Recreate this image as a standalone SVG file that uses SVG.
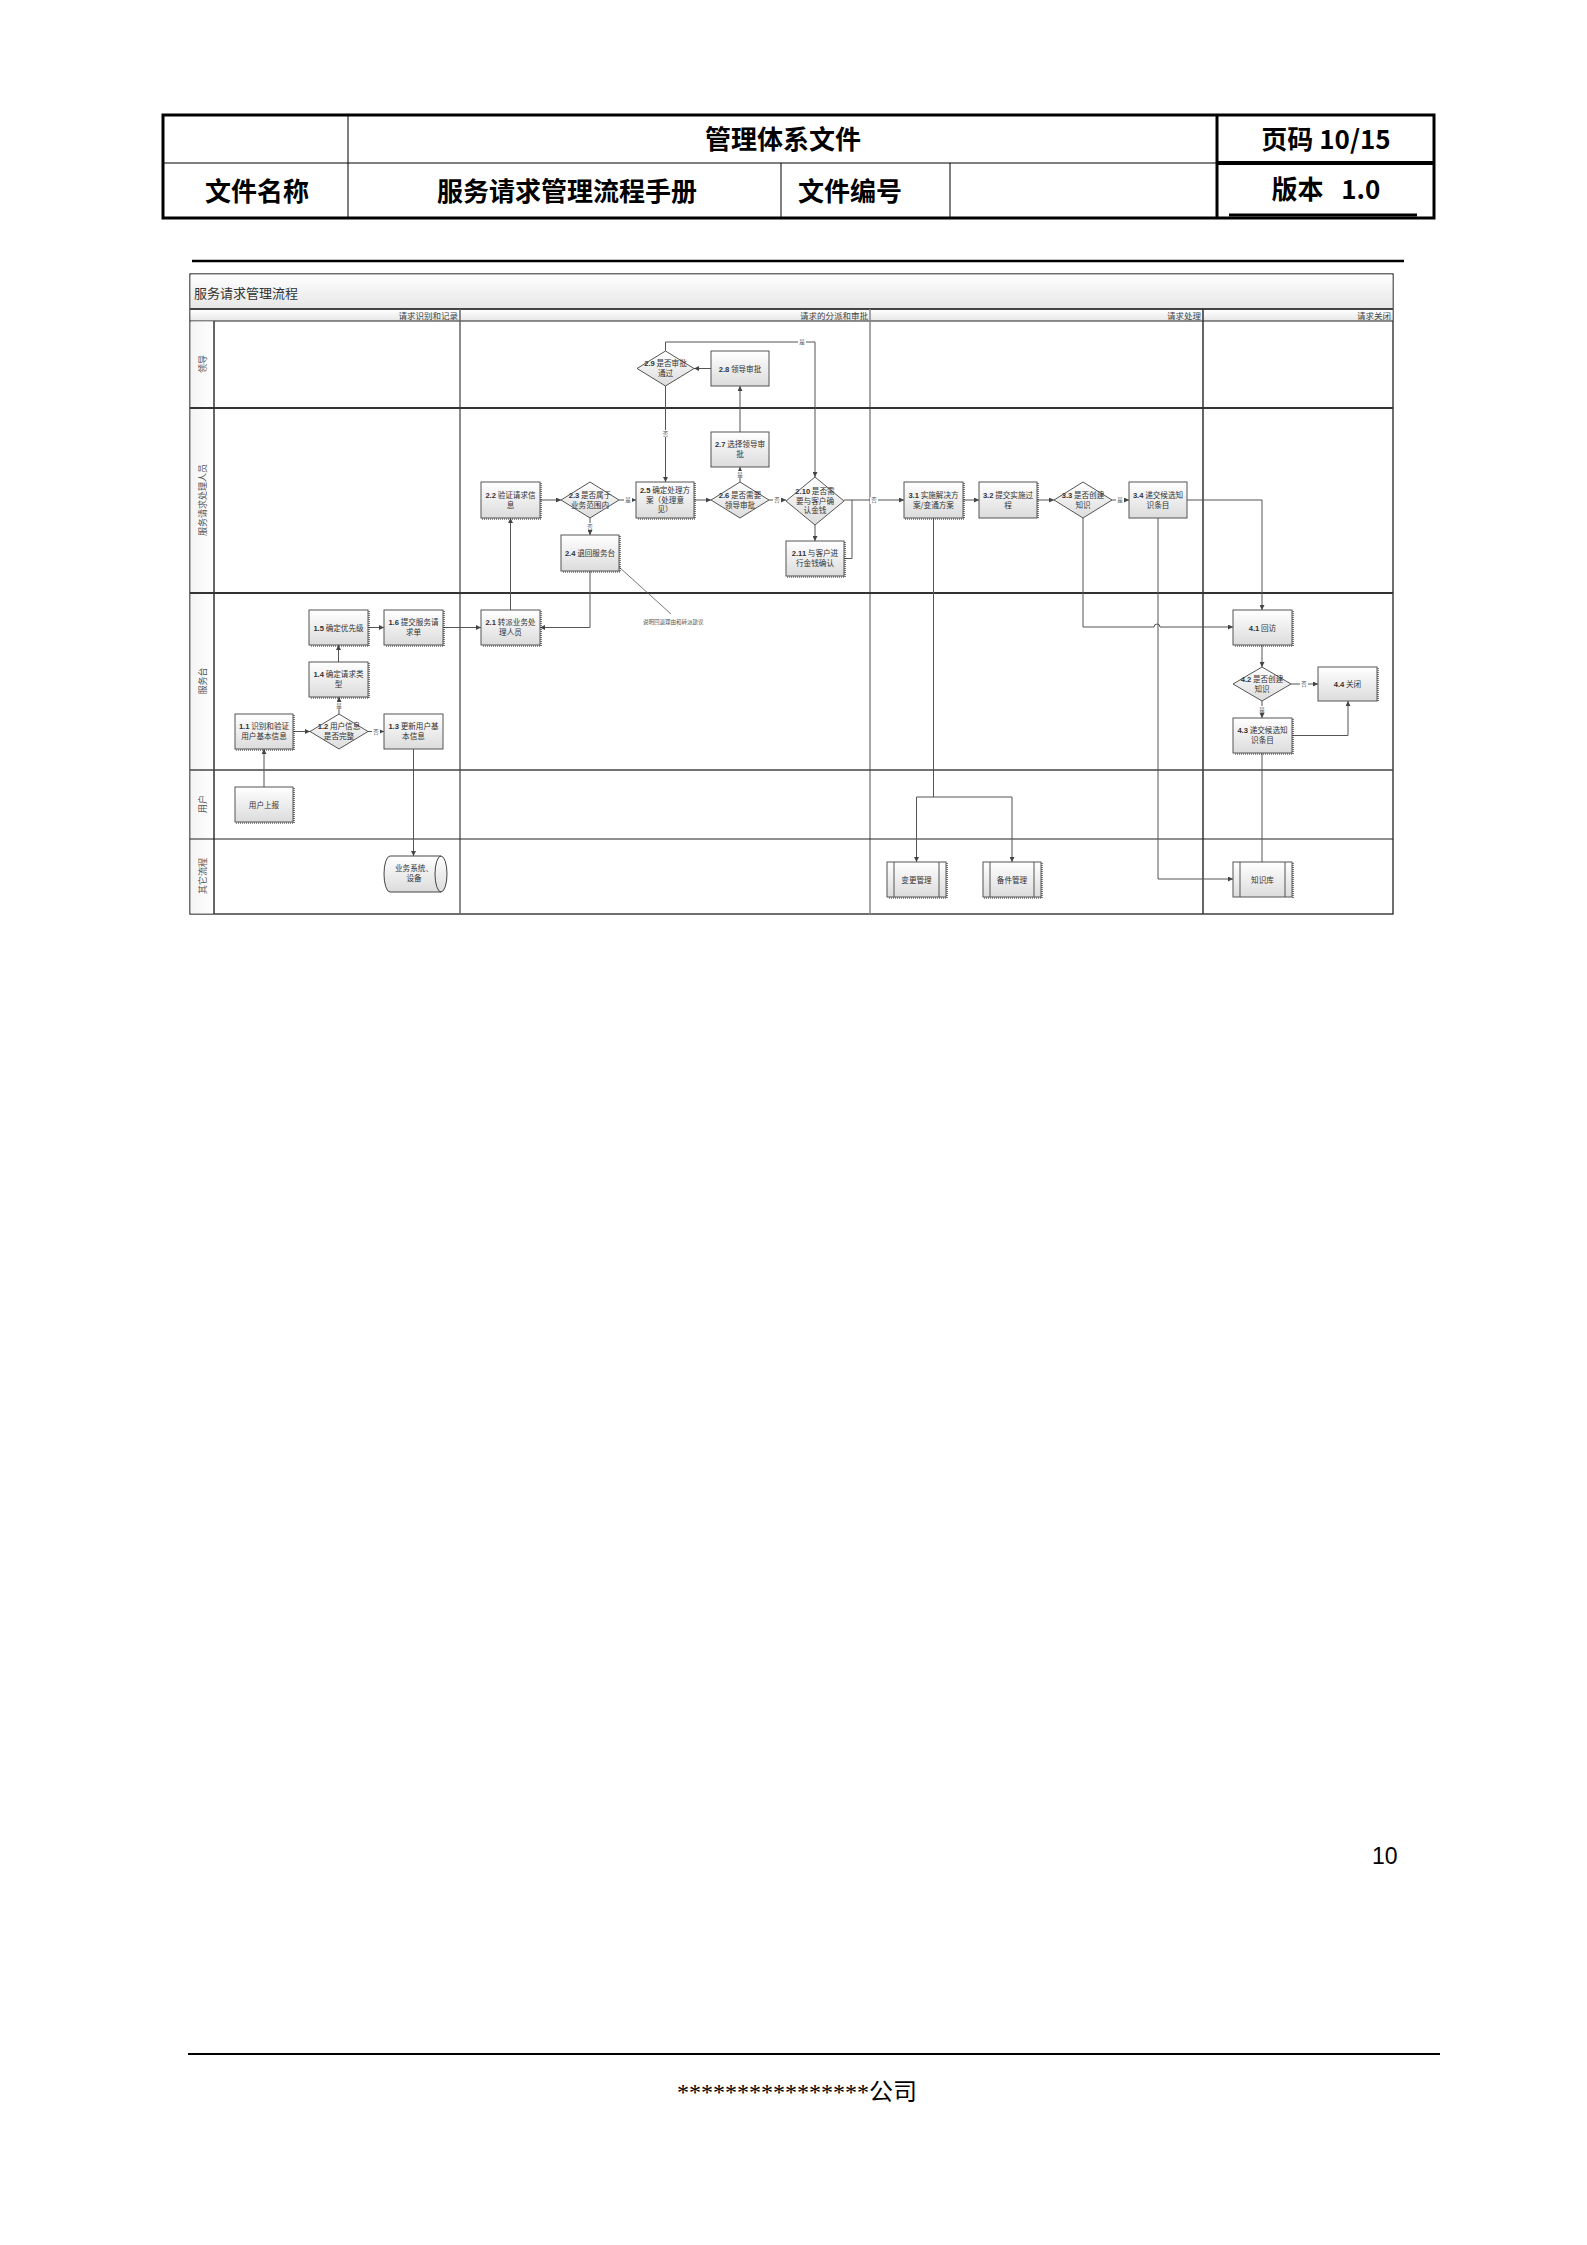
<svg xmlns="http://www.w3.org/2000/svg" width="1587" height="2245" viewBox="0 0 1587 2245">
<style>
.hd{font-family:"Noto Sans CJK SC","Liberation Sans",sans-serif;font-weight:bold;font-size:26px;fill:#000;text-anchor:middle;dominant-baseline:central}
.bx{fill:url(#gb);stroke:#555;stroke-width:1}
.sh{fill:none;stroke:#222;stroke-width:1.2;stroke-dasharray:1 1}
.t{font-family:"Noto Sans CJK SC","Liberation Serif",sans-serif;font-size:7.6px;fill:#333;text-anchor:middle}
.n{font-family:"Liberation Sans",sans-serif;font-weight:bold}
.c{fill:none;stroke:#555;stroke-width:1}
.ca{fill:none;stroke:#555;stroke-width:1;marker-end:url(#ah)}
.lb{font-family:"Noto Sans CJK SC",sans-serif;font-size:5.5px;fill:#555;text-anchor:middle;dominant-baseline:central}
.lbg{fill:#fff}
.ln{font-family:"Noto Sans CJK SC",sans-serif;font-size:9px;fill:#555;text-anchor:middle;dominant-baseline:central}
.ch{font-family:"Noto Sans CJK SC",sans-serif;font-size:8.5px;fill:#444;text-anchor:end;dominant-baseline:central}
</style>
<defs>
<linearGradient id="gb" x1="0" y1="0" x2="0" y2="1"><stop offset="0" stop-color="#ffffff"/><stop offset="1" stop-color="#dcdcdc"/></linearGradient>
<linearGradient id="gt" x1="0" y1="0" x2="0" y2="1"><stop offset="0" stop-color="#ffffff"/><stop offset="1" stop-color="#e6e6e6"/></linearGradient>
<linearGradient id="gl" x1="0" y1="0" x2="1" y2="0"><stop offset="0" stop-color="#f4f4f4"/><stop offset="1" stop-color="#ffffff"/></linearGradient>
<marker id="ah" viewBox="0 0 6 6" refX="6" refY="3" markerWidth="5" markerHeight="5" markerUnits="userSpaceOnUse" orient="auto"><path d="M0,0 L6,3 L0,6 z" fill="#444"/></marker>
</defs>
<rect width="1587" height="2245" fill="#fff"/>

<!-- header table -->
<g id="header">
<rect x="163" y="115" width="1271" height="103" fill="none" stroke="#000" stroke-width="3"/>
<line x1="163" y1="163" x2="1217" y2="163" stroke="#000" stroke-width="1"/>
<line x1="1217" y1="163" x2="1434" y2="163" stroke="#000" stroke-width="4"/>
<line x1="348" y1="115" x2="348" y2="218" stroke="#000" stroke-width="1"/>
<line x1="1217" y1="115" x2="1217" y2="218" stroke="#000" stroke-width="3"/>
<line x1="781" y1="163" x2="781" y2="218" stroke="#000" stroke-width="1"/>
<line x1="950" y1="163" x2="950" y2="218" stroke="#000" stroke-width="1"/>
<line x1="1229" y1="215" x2="1417" y2="215" stroke="#000" stroke-width="3"/>
<text class="hd" x="783" y="137">管理体系文件</text>
<text class="hd" x="1326" y="137">页码 10/15</text>
<text class="hd" x="257" y="189">文件名称</text>
<text class="hd" x="567" y="189">服务请求管理流程手册</text>
<text class="hd" x="850" y="189">文件编号</text>
<text class="hd" x="1326" y="187" xml:space="preserve">版本   1.0</text>
</g>
<line x1="192" y1="261" x2="1404" y2="261" stroke="#000" stroke-width="2.5"/>

<!-- swimlane frame -->
<g id="frame">
<rect x="190" y="274" width="1203" height="640" fill="#fff" stroke="#222" stroke-width="1.3"/>
<rect x="190.5" y="274.5" width="1202" height="34.5" fill="url(#gt)"/>
<text x="194" y="292" font-family="Noto Sans CJK SC,sans-serif" font-size="13" fill="#333" dominant-baseline="central">服务请求管理流程</text>
<line x1="190" y1="309" x2="1393" y2="309" stroke="#444" stroke-width="2"/>
<rect x="190.5" y="310" width="1202" height="11" fill="url(#gt)"/>
<line x1="190" y1="321" x2="1393" y2="321" stroke="#222" stroke-width="1"/>
<rect x="190.5" y="321.5" width="23.5" height="592" fill="url(#gl)"/>
<line x1="214" y1="321" x2="214" y2="914" stroke="#333" stroke-width="1.5"/>
<line x1="460" y1="309" x2="460" y2="914" stroke="#666" stroke-width="1.5"/>
<line x1="870" y1="309" x2="870" y2="914" stroke="#888" stroke-width="1.5"/>
<line x1="1203" y1="309" x2="1203" y2="914" stroke="#333" stroke-width="1.5"/>
<line x1="190" y1="408" x2="1393" y2="408" stroke="#333" stroke-width="2"/>
<line x1="190" y1="593" x2="1393" y2="593" stroke="#333" stroke-width="2"/>
<line x1="190" y1="770" x2="1393" y2="770" stroke="#444" stroke-width="1.3"/>
<line x1="190" y1="839" x2="1393" y2="839" stroke="#222" stroke-width="1.2"/>
<text class="ch" x="458" y="315">请求识别和记录</text>
<text class="ch" x="868" y="315">请求的分派和审批</text>
<text class="ch" x="1201" y="315">请求处理</text>
<text class="ch" x="1391" y="315">请求关闭</text>
<text class="ln" transform="translate(202,364) rotate(-90)">领导</text>
<text class="ln" transform="translate(202,500) rotate(-90)">服务请求处理人员</text>
<text class="ln" transform="translate(202,681) rotate(-90)">服务台</text>
<text class="ln" transform="translate(202,804) rotate(-90)">用户</text>
<text class="ln" transform="translate(202,876) rotate(-90)">其它流程</text>
</g>

<!-- connectors -->
<g id="connectors">
<path class="ca" d="M264,787 V749"/>
<path class="ca" d="M293,731.5 H310"/>
<path class="ca" d="M368,731.5 H384"/>
<path class="ca" d="M339,714 V697"/>
<path class="ca" d="M338.5,662 V645"/>
<path class="ca" d="M368,627.5 H384"/>
<path class="ca" d="M443,627.5 H481"/>
<path class="ca" d="M510.5,610 V518"/>
<path class="ca" d="M590,571 V627.5 H540"/>
<path class="ca" d="M413.5,749 V856"/>
<path class="ca" d="M540,500 H561"/>
<path class="ca" d="M590,518 V535"/>
<path class="ca" d="M619,500 H636"/>
<path class="ca" d="M711,368.5 H694"/>
<path class="ca" d="M665.5,351 V342 H815 V477"/>
<path class="ca" d="M665.5,386 V482"/>
<path class="ca" d="M694,500 H711"/>
<path class="ca" d="M740,482 V467"/>
<path class="ca" d="M740,432 V386"/>
<path class="ca" d="M769,500 H786"/>
<path class="ca" d="M815,525 V541"/>
<path class="c" d="M844,558.5 H852 V500" stroke="#333" stroke-width="1.3"/>
<path class="ca" d="M844,500 H904" stroke="#333" stroke-width="1.3"/>
<path class="c" d="M933.5,518 V797" stroke="#222" stroke-width="2"/>
<path class="c" d="M916.5,797 H1012"/>
<path class="ca" d="M916.5,797 V862"/>
<path class="ca" d="M1012,797 V862"/>
<path class="ca" d="M963,500 H979"/>
<path class="ca" d="M1037,500 H1054"/>
<path class="ca" d="M1112,500 H1129"/>
<path class="ca" d="M1187,500 H1262 V610"/>
<path class="ca" d="M1083,518 V627 H1154 A3,3 0 0 1 1160,627 H1233"/>
<path class="ca" d="M1158,518 V879 H1233"/>
<path class="ca" d="M1262,645 V667"/>
<path class="ca" d="M1291,684 H1318"/>
<path class="ca" d="M1262,701 V718"/>
<path class="ca" d="M1292,735.5 H1348 V701"/>
<path class="c" d="M1262,753 V862"/>
<line x1="619" y1="567" x2="671" y2="614" stroke="#555" stroke-width="0.8"/>
<text x="643" y="624" font-family="Noto Sans CJK SC,sans-serif" font-size="5.5" fill="#555">说明回退理由和转派建议</text>
<g id="labels">
<rect class="lbg" x="372" y="728" width="8" height="7"/><text class="lb" x="376" y="731.5">否</text>
<rect class="lbg" x="335" y="702" width="8" height="7"/><text class="lb" x="339" y="705.5">是</text>
<rect class="lbg" x="586" y="523" width="8" height="7"/><text class="lb" x="590" y="526.5">否</text>
<rect class="lbg" x="624" y="497" width="8" height="7"/><text class="lb" x="628" y="500">是</text>
<rect class="lbg" x="798" y="339" width="8" height="7"/><text class="lb" x="802" y="342">是</text>
<rect class="lbg" x="661.5" y="430" width="8" height="7"/><text class="lb" x="665.5" y="433.5">否</text>
<rect class="lbg" x="736" y="471" width="8" height="7"/><text class="lb" x="740" y="474.5">是</text>
<rect class="lbg" x="773" y="497" width="8" height="7"/><text class="lb" x="777" y="500">否</text>
<rect class="lbg" x="870" y="497" width="8" height="7"/><text class="lb" x="874" y="500">否</text>
<rect class="lbg" x="1116" y="497" width="8" height="7"/><text class="lb" x="1120" y="500">是</text>
<rect class="lbg" x="1300" y="681" width="8" height="7"/><text class="lb" x="1304" y="684">否</text>
<rect class="lbg" x="1258" y="706" width="8" height="7"/><text class="lb" x="1262" y="709.5">是</text>
</g>
</g>

<!-- nodes -->
<g id="n11"><path class="sh" d="M294,715 V750 H236"/><rect class="bx" x="235" y="714" width="58" height="35"/><text class="t" x="264" y="729"><tspan class="n">1.1</tspan> 识别和验证<tspan x="264" dy="10">用户基本信息</tspan></text></g>
<g id="n12"><polygon class="bx" points="339,714 368,731.5 339,749 310,731.5"/><text class="t" x="339" y="729"><tspan class="n">1.2</tspan> 用户信息<tspan x="339" dy="10">是否完整</tspan></text></g>
<g id="n13"><rect class="bx" x="384" y="714" width="59" height="35"/><text class="t" x="413.5" y="729"><tspan class="n">1.3</tspan> 更新用户基<tspan x="413.5" dy="10">本信息</tspan></text></g>
<g id="n14"><path class="sh" d="M369,663 V698 H310"/><rect class="bx" x="309" y="662" width="59" height="35"/><text class="t" x="338.5" y="677"><tspan class="n">1.4</tspan> 确定请求类<tspan x="338.5" dy="10">型</tspan></text></g>
<g id="n15"><path class="sh" d="M369,611 V646 H310"/><rect class="bx" x="309" y="610" width="59" height="35"/><text class="t" x="338.5" y="630.5"><tspan class="n">1.5</tspan> 确定优先级</text></g>
<g id="n16"><path class="sh" d="M444,611 V646 H385"/><rect class="bx" x="384" y="610" width="59" height="35"/><text class="t" x="413.5" y="625"><tspan class="n">1.6</tspan> 提交服务请<tspan x="413.5" dy="10">求单</tspan></text></g>
<g id="nUser"><path class="sh" d="M294,788 V823 H236"/><rect class="bx" x="235" y="787" width="58" height="35"/><text class="t" x="264" y="807.5">用户上报</text></g>
<g id="nSys"><path d="M390,856 H441 A6,18 0 0 1 441,892 H390 A6,18 0 0 1 390,856 Z" fill="url(#gb)" stroke="#444" stroke-width="1"/><path d="M441,856 A6,18 0 0 0 441,892" fill="none" stroke="#444" stroke-width="1"/><text class="t" x="414" y="871">业务系统、<tspan x="414" dy="10">设备</tspan></text></g>
<g id="n21"><path class="sh" d="M541,611 V646 H482"/><rect class="bx" x="481" y="610" width="59" height="35"/><text class="t" x="510.5" y="625"><tspan class="n">2.1</tspan> 转派业务处<tspan x="510.5" dy="10">理人员</tspan></text></g>
<g id="n22"><path class="sh" d="M541,483 V519 H482"/><rect class="bx" x="481" y="482" width="59" height="36"/><text class="t" x="510.5" y="497.5"><tspan class="n">2.2</tspan> 验证请求信<tspan x="510.5" dy="10">息</tspan></text></g>
<g id="n23"><polygon class="bx" points="590,482 619,500 590,518 561,500"/><text class="t" x="590" y="497.5"><tspan class="n">2.3</tspan> 是否属于<tspan x="590" dy="10">业务范围内</tspan></text></g>
<g id="n24"><path class="sh" d="M620,536 V572 H562"/><rect class="bx" x="561" y="535" width="58" height="36"/><text class="t" x="590" y="556"><tspan class="n">2.4</tspan> 退回服务台</text></g>
<g id="n25"><path class="sh" d="M695,483 V519 H637"/><rect class="bx" x="636" y="482" width="58" height="36"/><text class="t" x="665" y="493"><tspan class="n">2.5</tspan> 确定处理方<tspan x="665" dy="9.5">案（处理意</tspan><tspan x="665" dy="9.5">见）</tspan></text></g>
<g id="n26"><polygon class="bx" points="740,482 769,500 740,518 711,500"/><text class="t" x="740" y="497.5"><tspan class="n">2.6</tspan> 是否需要<tspan x="740" dy="10">领导审批</tspan></text></g>
<g id="n27"><rect class="bx" x="711" y="432" width="58" height="35"/><text class="t" x="740" y="447"><tspan class="n">2.7</tspan> 选择领导审<tspan x="740" dy="10">批</tspan></text></g>
<g id="n28"><rect class="bx" x="711" y="351" width="58" height="35"/><text class="t" x="740" y="371.5"><tspan class="n">2.8</tspan> 领导审批</text></g>
<g id="n29"><polygon class="bx" points="665.5,351 694,368.5 665.5,386 637,368.5"/><text class="t" x="665.5" y="366"><tspan class="n">2.9</tspan> 是否审批<tspan x="665.5" dy="10">通过</tspan></text></g>
<g id="n210"><polygon class="bx" points="815,477 844,501 815,525 786,501"/><text class="t" x="815" y="494"><tspan class="n">2.10</tspan> 是否需<tspan x="815" dy="9.5">要与客户确</tspan><tspan x="815" dy="9.5">认金钱</tspan></text></g>
<g id="n211"><path class="sh" d="M845,542 V577 H787"/><rect class="bx" x="786" y="541" width="58" height="35"/><text class="t" x="815" y="556"><tspan class="n">2.11</tspan> 与客户进<tspan x="815" dy="10">行金钱确认</tspan></text></g>
<g id="n31"><path class="sh" d="M964,483 V519 H905"/><rect class="bx" x="904" y="482" width="59" height="36"/><text class="t" x="933.5" y="497.5"><tspan class="n">3.1</tspan> 实施解决方<tspan x="933.5" dy="10">案/变通方案</tspan></text></g>
<g id="n32"><path class="sh" d="M1038,483 V519"/><rect class="bx" x="979" y="482" width="58" height="36"/><text class="t" x="1008" y="497.5"><tspan class="n">3.2</tspan> 提交实施过<tspan x="1008" dy="10">程</tspan></text></g>
<g id="n33"><polygon class="bx" points="1083,482 1112,500 1083,518 1054,500"/><text class="t" x="1083" y="497.5"><tspan class="n">3.3</tspan> 是否创建<tspan x="1083" dy="10">知识</tspan></text></g>
<g id="n34"><rect class="bx" x="1129" y="482" width="58" height="36"/><text class="t" x="1158" y="497.5"><tspan class="n">3.4</tspan> 递交候选知<tspan x="1158" dy="10">识条目</tspan></text></g>
<g id="n41"><path class="sh" d="M1293,611 V646 H1234"/><rect class="bx" x="1233" y="610" width="59" height="35"/><text class="t" x="1262.5" y="630.5"><tspan class="n">4.1</tspan> 回访</text></g>
<g id="n42"><polygon class="bx" points="1262,667 1291,684 1262,701 1233,684"/><text class="t" x="1262" y="681.5"><tspan class="n">4.2</tspan> 是否创建<tspan x="1262" dy="10">知识</tspan></text></g>
<g id="n43"><path class="sh" d="M1293,719 V754 H1234"/><rect class="bx" x="1233" y="718" width="59" height="35"/><text class="t" x="1262.5" y="733"><tspan class="n">4.3</tspan> 递交候选知<tspan x="1262.5" dy="10">识条目</tspan></text></g>
<g id="n44"><path class="sh" d="M1378,668 V702"/><rect class="bx" x="1318" y="667" width="59" height="34"/><text class="t" x="1347.5" y="687"><tspan class="n">4.4</tspan> 关闭</text></g>
<g id="nChg"><path class="sh" d="M947,863 V898 H888"/><rect class="bx" x="887" y="862" width="59" height="35"/><line x1="894" y1="862" x2="894" y2="897" stroke="#555"/><line x1="939" y1="862" x2="939" y2="897" stroke="#555"/><text class="t" x="916.5" y="882.5">变更管理</text></g>
<g id="nSpare"><path class="sh" d="M1042,863 V898 H984"/><rect class="bx" x="983" y="862" width="58" height="35"/><line x1="990" y1="862" x2="990" y2="897" stroke="#555"/><line x1="1034" y1="862" x2="1034" y2="897" stroke="#555"/><text class="t" x="1012" y="882.5">备件管理</text></g>
<g id="nKb"><path class="sh" d="M1293,863 V898"/><rect class="bx" x="1233" y="862" width="59" height="35"/><line x1="1240" y1="862" x2="1240" y2="897" stroke="#555"/><line x1="1285" y1="862" x2="1285" y2="897" stroke="#555"/><text class="t" x="1262.5" y="882.5">知识库</text></g>

<!-- footer -->
<text x="1372" y="1864" font-family="Liberation Sans,sans-serif" font-size="23" fill="#000">10</text>
<line x1="188" y1="2054" x2="1440" y2="2054" stroke="#000" stroke-width="2"/>
<text x="797" y="2100" font-family="Liberation Serif,Noto Sans CJK SC,serif" font-size="24" fill="#000" text-anchor="middle">****************公司</text>
</svg>
